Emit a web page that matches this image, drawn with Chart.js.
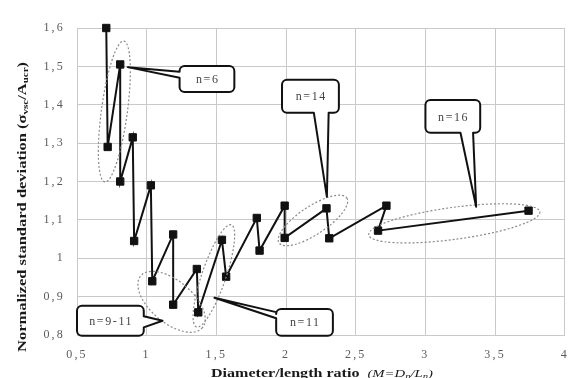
<!DOCTYPE html>
<html>
<head>
<meta charset="utf-8">
<script src="https://cdn.jsdelivr.net/npm/chart.js@4/dist/chart.umd.min.js"></script>
<style>
  html, body { margin: 0; padding: 0; background: #fff; }
  canvas { display: block; }
</style>
</head>
<body>
<canvas id="chart" width="571" height="378"></canvas>
<script>
// ── Series : diameter/length ratio vs normalized std deviation ──
const ratioM = [0.71, 0.72, 0.81, 0.81, 0.90, 0.91, 1.03, 1.04, 1.19, 1.19, 1.36, 1.37,
                1.54, 1.57, 1.79, 1.81, 1.99, 1.99, 2.29, 2.31, 2.72, 2.66, 3.74];
const sigmaN = [1.600, 1.290, 1.505, 1.200, 1.315, 1.045, 1.190, 0.940, 1.062, 0.879, 0.972, 0.859,
                1.048, 0.952, 1.105, 1.020, 1.137, 1.053, 1.130, 1.052, 1.137, 1.072, 1.124];

const xTicks      = [0.5, 1, 1.5, 2, 2.5, 3, 3.5, 4];
const xTickLabels = ['0,5', '1', '1,5', '2', '2,5', '3', '3,5', '4'];
const yTicks      = [0.8, 0.9, 1, 1.1, 1.2, 1.3, 1.4, 1.5, 1.6];
const yTickLabels = ['0,8', '0,9', '1', '1,1', '1,2', '1,3', '1,4', '1,5', '1,6'];

// ── Groupes (ellipses + bulles) ──
const groupLabels = ['n=6', 'n=9-11', 'n=11', 'n=14', 'n=16'];
// ellipse : deux extrémités du grand axe (unités data) + demi petit axe (px)
const groupEllipses = [
  { a: [0.70, 1.199], b: [0.836, 1.566], r: 13 },
  { a: [0.957, 0.954], b: [1.40, 0.819], r: 21 },
  { a: [1.607, 1.087], b: [1.357, 0.821], r: 12 },
  { a: [1.95, 1.040], b: [2.436, 1.157], r: 14 },
  { a: [2.593, 1.061], b: [3.821, 1.121], r: 16 },
];
// bulle : boîte [x0, yHaut, x1, yBas], pointe, côté du bec, position du bec sur le côté
const groupCallouts = [
  { box: [1.236, 1.501, 1.629, 1.433], tip: [0.864, 1.498], side: 'left',   at: [0.22, 0.45] },
  { box: [0.500, 0.876, 0.979, 0.798], tip: [1.114, 0.837], side: 'right',  at: [0.35, 0.72] },
  { box: [1.929, 0.868, 2.336, 0.798], tip: [1.486, 0.897], side: 'left',   at: [0.12, 0.35] },
  { box: [1.971, 1.465, 2.379, 1.379], tip: [2.293, 1.160], side: 'bottom', at: [0.56, 0.82] },
  { box: [3.000, 1.4125, 3.393, 1.327], tip: [3.364, 1.134], side: 'bottom', at: [0.64, 0.87] },
];

const SERIF = "'Liberation Serif', 'Times New Roman', serif";
const GRID  = '#c9c9c9';

// ── Texte enrichi (indices, italique), mis à la longueur voulue ──
function runsWidth(ctx, runs) {
  return runs.reduce((w, r) => { ctx.font = r.font; return w + ctx.measureText(r.t).width; }, 0);
}
function drawRunsFit(ctx, runs, cx, cy, length) {
  ctx.save();
  ctx.letterSpacing = '0px';
  const raw = runsWidth(ctx, runs);
  ctx.translate(cx, cy);
  ctx.scale(length / raw, 1);
  let x = -raw / 2;
  ctx.textAlign = 'left';
  ctx.textBaseline = 'alphabetic';
  runs.forEach(r => {
    ctx.font = r.font;
    ctx.fillText(r.t, x, r.dy || 0);
    x += ctx.measureText(r.t).width;
  });
  ctx.restore();
}

// ── Bulle arrondie avec bec ──
function calloutPath(ctx, x0, y0, x1, y1, r, tip, side, at) {
  const w = x1 - x0, h = y1 - y0;
  ctx.beginPath();
  ctx.moveTo(x0 + r, y0);
  ctx.lineTo(x1 - r, y0);
  ctx.arcTo(x1, y0, x1, y0 + r, r);
  if (side === 'right') {
    ctx.lineTo(x1, y0 + h * at[0]);
    ctx.lineTo(tip[0], tip[1]);
    ctx.lineTo(x1, y0 + h * at[1]);
  }
  ctx.lineTo(x1, y1 - r);
  ctx.arcTo(x1, y1, x1 - r, y1, r);
  if (side === 'bottom') {
    ctx.lineTo(x0 + w * at[1], y1);
    ctx.lineTo(tip[0], tip[1]);
    ctx.lineTo(x0 + w * at[0], y1);
  }
  ctx.lineTo(x0 + r, y1);
  ctx.arcTo(x0, y1, x0, y1 - r, r);
  if (side === 'left') {
    ctx.lineTo(x0, y0 + h * at[1]);
    ctx.lineTo(tip[0], tip[1]);
    ctx.lineTo(x0, y0 + h * at[0]);
  }
  ctx.lineTo(x0, y0 + r);
  ctx.arcTo(x0, y0, x0 + r, y0, r);
  ctx.closePath();
}

const groupsPlugin = {
  id: 'groups',
  // espacement des lettres pour les graduations de Chart.js
  beforeUpdate(chart) { chart.ctx.letterSpacing = '2.2px'; },
  beforeDraw(chart)   { chart.ctx.letterSpacing = '2.2px'; },
  afterDatasetsDraw(chart) {
    const { ctx, scales: { x, y } } = chart;
    const P = p => [x.getPixelForValue(p[0]), y.getPixelForValue(p[1])];

    ctx.save();
    ctx.strokeStyle = '#8a8a8a';
    ctx.lineWidth = 1.2;
    ctx.setLineDash([2, 2]);
    groupEllipses.forEach(e => {
      const a = P(e.a), b = P(e.b);
      const cx = (a[0] + b[0]) / 2, cy = (a[1] + b[1]) / 2;
      const half = Math.hypot(b[0] - a[0], b[1] - a[1]) / 2;
      const ang = Math.atan2(b[1] - a[1], b[0] - a[0]);
      ctx.beginPath();
      ctx.ellipse(cx, cy, half, e.r, ang, 0, Math.PI * 2);
      ctx.stroke();
    });
    ctx.restore();

    ctx.save();
    ctx.letterSpacing = '1.6px';
    groupCallouts.forEach((c, i) => {
      const [bx0, by0] = P([c.box[0], c.box[1]]);
      const [bx1, by1] = P([c.box[2], c.box[3]]);
      calloutPath(ctx, bx0, by0, bx1, by1, 5, P(c.tip), c.side, c.at);
      ctx.fillStyle = '#fff';
      ctx.fill();
      ctx.lineWidth = 2;
      ctx.lineJoin = 'round';
      ctx.strokeStyle = '#111';
      ctx.stroke();
      ctx.fillStyle = '#444';
      ctx.font = `12px ${SERIF}`;
      ctx.textAlign = 'center';
      ctx.textBaseline = 'middle';
      ctx.fillText(groupLabels[i], (bx0 + bx1) / 2 + 0.8, (by0 + by1) / 2 + 1);
    });
    ctx.restore();
  },
  afterDraw(chart) {
    const { ctx } = chart;
    const B = `bold 12px ${SERIF}`, Bs = `bold 8px ${SERIF}`;
    const I = `italic 11px ${SERIF}`, Is = `italic 8px ${SERIF}`;
    ctx.save();
    ctx.fillStyle = '#1a1a1a';
    // titre axe X
    drawRunsFit(ctx, [
      { t: 'Diameter/length ratio  ', font: B },
      { t: '(M=D', font: I }, { t: 'n', font: Is, dy: 2 },
      { t: '/L', font: I }, { t: 'n', font: Is, dy: 2 }, { t: ')', font: I },
    ], 322, 377, 222);
    // titre axe Y (vertical)
    ctx.translate(26, 207);
    ctx.rotate(-Math.PI / 2);
    drawRunsFit(ctx, [
      { t: 'Normalized standard deviation (σ', font: B },
      { t: 'vsc', font: Bs, dy: 2 },
      { t: '/A', font: B }, { t: 'ucr', font: Bs, dy: 2 }, { t: ')', font: B },
    ], 0, 0, 290);
    ctx.restore();
  }
};

new Chart(document.getElementById('chart').getContext('2d'), {
  type: 'scatter',
  data: {
    datasets: [{
      data: ratioM.map((m, i) => ({ x: m, y: sigmaN[i] })),
      showLine: true, clip: false,
      borderColor: '#111', borderWidth: 2, tension: 0,
      pointStyle: 'rect', pointRadius: 5.2,
      pointBackgroundColor: '#111', pointBorderColor: '#111', pointBorderWidth: 1,
    }]
  },
  options: {
    responsive: false, animation: false, devicePixelRatio: 1,
    layout: { padding: { top: 28, right: 5, left: 0, bottom: 0 } },
    plugins: { legend: { display: false }, tooltip: { enabled: false } },
    scales: {
      x: {
        type: 'linear', min: 0.5, max: 4,
        afterBuildTicks: s => { s.ticks = xTicks.map(v => ({ value: v })); },
        afterFit: s => { s.height = 43; s.paddingLeft = 0; s.paddingRight = 0; },
        ticks: { callback: (v, i) => xTickLabels[i], color: '#5a5a5a', font: { family: SERIF, size: 12 },
                 padding: 13, maxRotation: 0, autoSkip: false },
        grid: { color: GRID, drawTicks: false },
        border: { color: GRID },
      },
      y: {
        type: 'linear', min: 0.8, max: 1.6,
        afterBuildTicks: s => { s.ticks = yTicks.map(v => ({ value: v })); },
        afterFit: s => { s.width = 77; s.paddingTop = 0; s.paddingBottom = 0; },
        ticks: { callback: (v, i) => yTickLabels[i], color: '#5a5a5a', font: { family: SERIF, size: 12 },
                 padding: 12, autoSkip: false },
        grid: { color: GRID, drawTicks: false },
        border: { color: GRID },
      }
    }
  },
  plugins: [groupsPlugin]
});
</script>
</body>
</html>
